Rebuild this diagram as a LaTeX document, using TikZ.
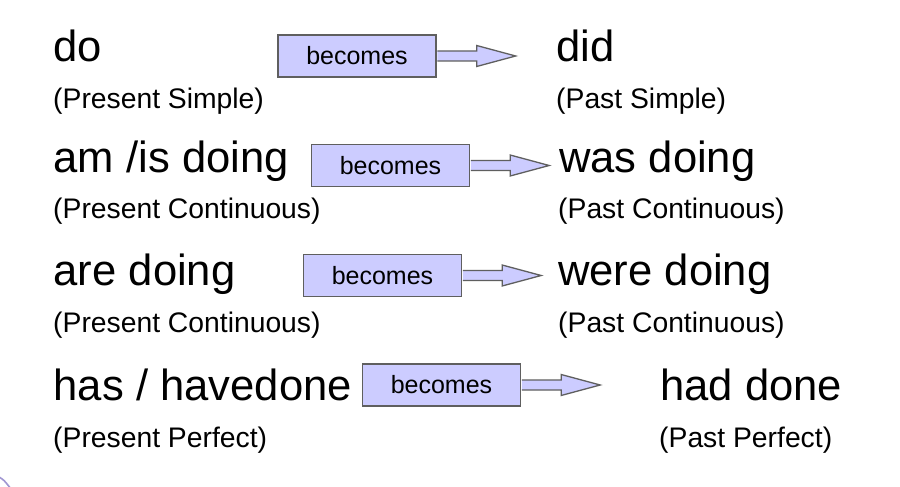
\documentclass[tikz,border=0pt]{standalone}
\usepackage{fontspec}
\setmainfont{Liberation Sans}
\definecolor{boxfill}{RGB}{204,204,255}
\definecolor{boxline}{RGB}{95,95,95}
\definecolor{cornerarc}{RGB}{160,150,210}

% block arrow leaving the east side of a named box
\newcommand\blockarrow[1]{%
  \filldraw[shaft] ([xshift=0.6pt]#1.east) ++(0,-5) -- ++(39.4,0) -- ++(0,-5.5)
    -- ++(39,10.5) -- ++(-39,10.5) -- ++(0,-5.5) -- ++(-39.4,0);}

\begin{document}
\begin{tikzpicture}[x=1pt,y=-1pt,
  tense/.style={anchor=base west,inner sep=0pt,font=\fontsize{43.6}{50}\selectfont},
  tensename/.style={anchor=base west,inner sep=0pt,font=\fontsize{28.3}{34}\selectfont},
  changebox/.style={draw=boxline,fill=boxfill,line width=1.3pt,
    minimum width=158pt,minimum height=42pt,inner sep=0pt,
    font=\fontsize{25}{30}\selectfont},
  shaft/.style={draw=boxline,fill=boxfill,line width=1.3pt,line join=miter}]

\path[use as bounding box,fill=white] (0,0) rectangle (900,487);

% left column: present tenses
\node[tense]     (l1) at (53.5,62)  {do};
\node[tensename] (s1) at (53,109)   {(Present Simple)};
\node[tense]     (l2) at (53.5,172) {am /is doing};
\node[tensename] (s2) at (53,218)   {(Present Continuous)};
\node[tense]     (l3) at (53.5,285) {are doing};
\node[tensename] (s3) at (53,332)   {(Present Continuous)};
\node[tense]     (l4) at (53.5,400) {has / havedone};
\node[tensename] (s4) at (53,447)   {(Present Perfect)};

% right column: past tenses
\node[tense]     (r1) at (556.5,62)  {did};
\node[tensename] (t1) at (556,109)   {(Past Simple)};
\node[tense]     (r2) at (559,172)   {was doing};
\node[tensename] (t2) at (558,218)   {(Past Continuous)};
\node[tense]     (r3) at (558,285)   {were doing};
\node[tensename] (t3) at (558,332)   {(Past Continuous)};
\node[tense]     (r4) at (660,400)   {had done};
\node[tensename] (t4) at (659,447)   {(Past Perfect)};

% "becomes" boxes with their arrows
\node[changebox] (b1) at (357,56)    {becomes};
\node[changebox] (b2) at (390.5,165.5) {becomes};
\node[changebox] (b3) at (382.5,275.5) {becomes};
\node[changebox] (b4) at (441.5,385) {becomes};
\blockarrow{b1}
\blockarrow{b2}
\blockarrow{b3}
\blockarrow{b4}

% corner decoration
\draw[cornerarc,line width=1.6pt] (-1,477) .. controls (4,480) .. (11,489);
\end{tikzpicture}
\end{document}
